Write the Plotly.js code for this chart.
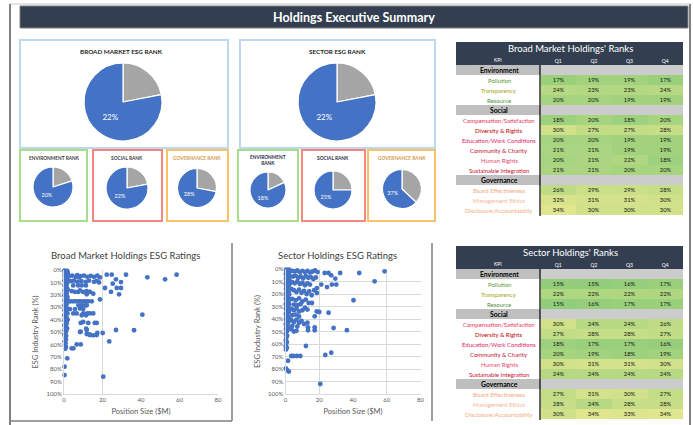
<!DOCTYPE html>
<html><head><meta charset="utf-8">
<script src="https://cdn.plot.ly/plotly-3.0.1.min.js"></script>
<style>html,body{margin:0;padding:0;background:#fff}#chart{width:693px;height:425px}</style>
</head><body><div id="chart"></div>
<script>
// ---------------- DATA ----------------
const pieNames = ['ESG', 'Environment', 'Social', 'Governance'];
const broadRank = [22, 20, 22, 28];
const sectorRank = [22, 18, 25, 37];

const kpiLabels = ['Environment','Pollution','Transparency','Resource','Social','Compensation/Satisfaction','Diversity & Rights','Education/Work Conditions','Community & Charity','Human Rights','Sustainable Integration','Governance','Board Effectiveness','Management Ethics','Disclosure/Accountability'];
const quarterLabels = ['Q1','Q2','Q3','Q4'];
const broadQ1 = [null,17,24,20,null,18,30,20,21,20,21,null,26,32,34];
const broadQ2 = [null,19,23,20,null,20,27,20,21,21,21,null,29,31,30];
const broadQ3 = [null,19,23,19,null,18,27,19,19,22,20,null,29,31,30];
const broadQ4 = [null,17,24,19,null,20,28,19,19,18,20,null,28,30,30];
const sectorQ1 = [null,15,22,15,null,30,27,18,20,30,24,null,27,28,30];
const sectorQ2 = [null,15,22,16,null,24,28,17,19,31,24,null,31,24,34];
const sectorQ3 = [null,16,22,17,null,24,28,17,18,31,24,null,30,28,33];
const sectorQ4 = [null,17,22,17,null,26,27,16,19,30,24,null,27,28,34];

// [position size $M, ESG industry rank %]
const broadPoints = [
[0.2,0.5],[0.9,1.0],[1.6,0.8],[0.4,2.5],[1.2,3.0],[2.0,2.2],[0.3,4.5],[1.0,5.0],[1.8,4.2],[0.5,6.5],[1.4,7.0],[0.2,8.5],[1.1,9.0],[1.9,8.2],[0.6,10.5],[1.5,11.0],[0.3,12.5],[1.2,13.0],[0.8,14.5],[1.7,15.0],[0.3,16.5],[1.1,17.0],[1.9,16.2],[0.5,18.5],[1.4,19.0],[0.2,20.5],[1.0,21.0],[1.8,21.8],[0.6,22.5],[1.3,23.5],[0.3,24.5],[1.1,25.0],[1.9,24.6],[0.7,26.5],[1.5,27.0],[0.2,28.5],[1.0,29.0],[0.5,30.5],[1.6,31.0],[0.3,32.5],[1.2,33.0],[0.8,34.5],[1.8,35.0],[0.2,36.5],[1.0,37.0],[0.6,38.5],[1.5,39.0],[0.3,40.5],[1.1,41.0],[1.9,40.2],[0.7,42.5],[1.4,43.0],[0.2,44.5],[1.0,45.0],[0.6,46.5],[1.6,47.0],[0.3,48.5],[1.2,49.0],[0.8,50.5],[0.2,52.0],[1.1,53.0],[0.5,54.5],[1.0,56.0],[0.3,57.5],[0.8,59.0],[0.4,60.5],[1.0,62.0],[0.6,63.5],
[1.7,71.2],[0.3,78],[0.3,84.7],[20.4,86],
[4,63.2],[4.9,63.2],[6.6,60],[8.7,60],[8.7,49.7],[11.8,51.6],[13.5,52.4],[17,52.4],[11.8,48.4],[27,48.4],[36.4,48.6],[20.1,50.8],[23.5,57.6],[15.2,52.7],[13.2,52],[8.3,50],[11.5,47.3],[17.3,50.8],
[8.7,42.7],[10,41.9],[12.6,42.7],[16,42.7],[17,42.7],
[4.8,35],[6.6,35],[10,35],[12.1,35],[13.5,35],[15.2,35],[9.2,36.5],[11.4,36.5],[40.7,36],
[3.1,31.5],[5.7,31.5],[8.3,31],[10,31.5],[7.5,28.5],[9.2,28.5],[11,28.5],[11.8,28.5],
[2.2,25.3],[3.5,25.3],[4.8,25.3],[6.1,25.3],[7.4,25.3],[8.7,25.3],[10,25.3],[11.3,25.3],[12.6,25.3],[14.4,25.3],[18.7,23.7],
[4,17],[5.7,17.7],[7.4,17.7],[8.3,16.5],[10,17.7],[11.8,17],[13.5,17.7],[15.2,19.1],[11.8,19.6],[24.4,17.7],[28.6,19.6],[21.3,14.5],[27.4,14.5],[29.6,14.5],
[4.8,12.4],[7.4,12.4],[9.2,12.4],[11.4,12.4],[25.3,11],
[3.5,9],[5.2,8.5],[6.9,9.5],[9,9],[11.3,9.5],[13,8.5],[15.6,9.5],[17,8.8],[18.2,10],[27,7.5],[29.6,9.7],
[2.7,5],[4.3,4.5],[6.1,5.5],[6.9,4.2],[7.8,6],[8.7,5],[10.4,4.5],[12.1,5.5],[13.9,4.8],[15.6,5.5],[17.3,4.5],[18.7,6],[22.2,3.8],[24.8,3.8],[32.2,3.8],[43.3,5.9],[52.5,7.5],[58.5,3.8]
];
const sectorPoints = [
[0.3,0.5],[1.2,1.0],[2.2,0.6],[0.5,2.2],[1.6,2.8],[2.6,2.0],[0.2,4.0],[1.0,4.6],[2.0,4.2],[0.6,6.0],[1.5,6.6],[2.5,6.2],[0.3,8.0],[1.2,8.5],[2.2,8.2],[0.7,10.0],[1.7,10.6],[0.2,12.0],[1.1,12.5],[2.3,12.2],[0.6,14.0],[1.6,14.5],[0.3,16.0],[1.2,16.6],[2.4,16.2],[0.7,18.0],[1.8,18.5],[0.2,20.0],[1.1,20.6],[2.2,20.2],[0.6,22.0],[1.5,22.6],[0.3,24.0],[1.2,24.6],[2.5,24.2],[0.8,26.0],[1.8,26.6],[0.2,28.0],[1.0,28.6],[2.2,28.2],[0.6,30.0],[1.6,30.6],[0.3,32.0],[1.3,32.6],[0.8,34.0],[2.0,34.5],[0.2,36.0],[1.1,36.6],[0.6,38.0],[1.7,38.5],[0.3,40.0],[1.2,40.6],[2.3,40.2],[0.7,42.0],[1.6,42.6],[0.2,44.0],[1.0,44.6],[0.6,46.0],[1.5,46.6],[0.3,48.0],[1.1,49.0],[0.6,50.5],[0.2,52.0],[1.0,53.5],[0.5,55.0],[0.2,57.0],[0.8,58.5],[0.4,60.0],[0.2,62.0],[0.8,63.0],[0.3,64.5],
[1.5,73.4],[0.2,79.5],[1,81],[2,82.1],[20.6,92],
[4,1.5],[5.5,2],[7,1.2],[8.5,2.5],[10,1.5],[11.5,2.5],[13,1.5],[14.5,2.8],[16,2],[17.5,1.2],[19,2.5],[23.2,3.2],[25.5,3.2],[27.1,5.1],[29.5,7.7],[32.4,3.2],[43.7,3.2],[58.7,1.9],
[4.5,6],[6,5.5],[7.5,7],[9,6],[10.5,7.5],[12,5.5],[13.5,7],[15,6.5],[16.5,8],[18,6.8],
[4,10.5],[5.5,11.5],[7,10],[8.5,12],[10,11],[11.5,13],[13,11.5],[14.5,12.5],[21.2,12.5],[27.5,12.5],[30.1,12.5],[24.6,14.5],[52.8,9.9],
[3.5,16],[5,17],[6.5,18.5],[8,16.5],[9.5,19],[11,17.5],[12.5,20],[14,18],[15.5,21],[18.6,15.3],[18.6,19.2],[17,17],
[4,24],[6,25],[8,23.5],[10,26],[12,24.5],[40.3,25],[13.7,27.2],[15.7,27.2],[5,28.5],[7,29],[9,28],
[3.5,32],[5,33],[6.5,31.5],[8,34],[10,33],[11.5,31],[13,32.5],[20,34.4],[25.5,35],[17.3,37.9],[18.5,34],[4,37],[6,36.5],[8,38],
[3.5,41],[5,42.5],[6.5,40.5],[8,43],[9.5,41.5],[11,44],[4,45.5],[7,46],[13,43],
[13.3,46.7],[17.3,46.7],[13.3,49],[17.3,49],[28.5,47.2],[36.4,49],[3.5,48],[5,50],[6.5,49.5],
[12.1,61.6],[3.4,69.6],[4.8,69.6],[6.8,69.6],[8.8,69.6],[23.6,68.8],[27.1,67]
];
const xTicks = [0,20,40,60,80];
const yTicks = [0,10,20,30,40,50,60,70,80,90,100];

// ---------------- HELPERS ----------------
const W = 693, H = 425;
const FONT = 'Lato, "Open Sans", sans-serif';
const px = x => x / W;
const py = y => 1 - y / H;
const BLUE = '#4472c4', GRAY = '#a5a5a5', NAVY = '#333f50';

const shapes = [];
const annotations = [];
function rect(x0, y0, x1, y1, color, width, fill) {
  shapes.push({type:'rect', xref:'paper', yref:'paper', x0:px(x0), x1:px(x1), y0:py(y1), y1:py(y0),
    line:{color:color || 'rgba(0,0,0,0)', width:width || 0}, fillcolor: fill || 'rgba(0,0,0,0)', layer:'below'});
}
function line(x0, y0, x1, y1, color, width) {
  shapes.push({type:'line', xref:'paper', yref:'paper', x0:px(x0), x1:px(x1), y0:py(y0), y1:py(y1),
    line:{color:color, width:width}, layer:'above'});
}
function label(text, x, y, size, color, bold) {
  annotations.push({xref:'paper', yref:'paper', x:px(x), y:py(y), text: bold ? '<b>' + text + '</b>' : text,
    showarrow:false, xanchor:'center', yanchor:'middle', font:{family:FONT, size:size, color:color}});
}

const traces = [];
function pie(rank, cx, cy, r, fs) {
  traces.push({type:'pie', values:[rank, 100 - rank], labels:['rest','rank'], sort:false, direction:'clockwise', rotation:0,
    marker:{colors:[GRAY, BLUE], line:{color:'#ffffff', width:1.2}},
    text:['', rank + '%'], textinfo:'text', textposition:'inside', insidetextorientation:'horizontal',
    insidetextfont:{family:FONT, size:fs, color:'#ffffff'}, hoverinfo:'none', showlegend:false,
    domain:{x:[px(cx - r), px(cx + r)], y:[py(cy + r), py(cy - r)]}});
}

// ---------------- FRAME & TITLE ----------------
line(10, 4, 690, 4, '#c8c8c8', 1);
line(10, 4, 10, 425, '#7f7f7f', 2);
line(690, 4, 690, 425, '#7f7f7f', 2);
rect(20, 6, 688, 28, '#7f7f7f', 1, NAVY);
label('Holdings Executive Summary', 354, 17, 12.5, '#ffffff', true);

// ---------------- PIES ----------------
rect(20, 40, 228, 148, '#bdd7ee', 2);
rect(20, 150, 87, 221, '#a9dc8c', 2);
rect(93, 150, 162, 221, '#f4877f', 2);
rect(167, 150, 228, 221, '#f6c36b', 2);
rect(240, 40, 435, 148, '#bdd7ee', 2);
rect(238, 150, 298, 221, '#a9dc8c', 2);
rect(302, 150, 365, 221, '#f4877f', 2);
rect(368, 150, 435, 221, '#f6c36b', 2);

label('BROAD MARKET ESG RANK', 121, 51, 6.3, '#262626', true);
label('ENVIRONMENT RANK', 54, 158, 4.8, '#404040', true);
label('SOCIAL RANK', 127, 158, 4.8, '#404040', true);
label('GOVERNANCE RANK', 197, 158, 4.8, '#d39a4e', true);
label('SECTOR ESG RANK', 337, 51, 6.3, '#262626', true);
label('ENVIRONMENT<br>RANK', 268, 160, 4.8, '#262d4a', true);
label('SOCIAL RANK', 333, 158, 4.8, '#262d4a', true);
label('GOVERNANCE RANK', 402, 158, 4.8, '#d39a4e', true);

const broadGeo = [[123,102,39,8],[53,187,20,5.5],[127,188,21,5.5],[197,188,19.5,5.5]];
const sectorGeo = [[337,102,39,8],[268,190,18,5.5],[333,190,19,5.5],[402,189,19.5,5.5]];
broadRank.forEach((v, i) => pie(v, ...broadGeo[i]));
sectorRank.forEach((v, i) => pie(v, ...sectorGeo[i]));

// ---------------- TABLES (heatmap + axis-anchored labels) ----------------
const groupIdx = [0, 4, 11];
const labelColors = ['#000000','#55a036','#a3a021','#4f8f35','#000000','#e8335c','#c00000','#e0245e','#c0102e','#e8476e','#c8102e','#000000','#f4a77c','#f6b595','#f2ac7e'];
const rowIdx = kpiLabels.map((k, i) => i);
const layoutAxes = {};
function table(qs, title, top, n) {
  const xa = 'x' + n, ya = 'y' + n;
  const hdrTop = top + 13, bodyTop = hdrTop + 10, bodyBot = bodyTop + 150;
  rect(456, top, 683, hdrTop, null, 0, NAVY);
  label(title, 570, top + 6.7, 9.5, '#ffffff', false);
  rect(456, hdrTop, 683, bodyTop, null, 0, NAVY);
  label('KPI', 498, hdrTop + 5, 5, '#ffffff', false);
  const z = rowIdx.map(i => qs.map(q => q[i]));
  const txt = rowIdx.map(i => qs.map(q => q[i] === null ? '' : q[i] + '%'));
  traces.push({type:'heatmap', x:[0,1,2,3], y:rowIdx, z:z, text:txt, texttemplate:'%{text}',
    textfont:{family:FONT, size:5.8, color:'#141414'},
    colorscale:[[0,'rgb(146,205,122)'],[1,'rgb(224,230,142)']], zmin:15, zmax:34, showscale:false,
    xgap:0, ygap:0, hoverinfo:'skip', xaxis:xa, yaxis:ya});
  layoutAxes['xaxis' + n] = {domain:[px(540.5), px(683)], anchor:ya, range:[-0.5, 3.5], side:'top',
    tickvals:[0,1,2,3], ticktext:quarterLabels, tickfont:{family:FONT, size:5, color:'#ffffff'}, ticks:'',
    showgrid:false, zeroline:false, showline:false, fixedrange:true};
  layoutAxes['yaxis' + n] = {domain:[py(bodyBot), py(bodyTop)], anchor:xa, range:[14.5, -0.5],
    showticklabels:false, ticks:'', showgrid:false, zeroline:false, showline:false, fixedrange:true};
  groupIdx.forEach(i => {
    shapes.push({type:'rect', xref:'paper', yref:ya, x0:px(456), x1:px(540), y0:i - 0.5, y1:i + 0.5,
      fillcolor:'#bfbfbf', line:{width:0}, layer:'below'});
    shapes.push({type:'rect', xref:'paper', yref:ya, x0:px(540), x1:px(683), y0:i - 0.5, y1:i + 0.5,
      fillcolor:'#cccccc', line:{width:0}, layer:'below'});
  });
  kpiLabels.forEach((k, i) => {
    const g = groupIdx.includes(i);
    annotations.push({xref:'paper', yref:ya, x:px(499), y:i, text: g ? '<b>' + k + '</b>' : k, showarrow:false,
      xanchor:'center', yanchor:'middle', font:{family:FONT, size: g ? 6.8 : 6, color:labelColors[i]}});
  });
  line(540, bodyTop, 540, bodyBot + 1, '#000000', 1.2);
}
table([broadQ1, broadQ2, broadQ3, broadQ4], "Broad Market Holdings' Ranks", 42, 3);
table([sectorQ1, sectorQ2, sectorQ3, sectorQ4], "Sector Holdings' Ranks", 246, 4);

// ---------------- SCATTERS ----------------
const mk = {color:BLUE, size:4.8, symbol:'circle'};
traces.push({type:'scatter', mode:'markers', x:broadPoints.map(p => p[0]), y:broadPoints.map(p => p[1]),
  marker:mk, xaxis:'x', yaxis:'y', hoverinfo:'skip', showlegend:false, cliponaxis:false});
traces.push({type:'scatter', mode:'markers', x:sectorPoints.map(p => p[0]), y:sectorPoints.map(p => p[1]),
  marker:mk, xaxis:'x2', yaxis:'y2', hoverinfo:'skip', showlegend:false, cliponaxis:false});

label('Broad Market Holdings ESG Ratings', 125, 255, 9.5, '#404040', false);
label('Sector Holdings ESG Ratings', 337, 255, 9.5, '#404040', false);
line(232, 243, 232, 421, '#7f7f7f', 1.5);
line(10, 421, 232, 421, '#7f7f7f', 1.5);
line(432, 243, 432, 421, '#7f7f7f', 1.5);

const tickFont = {family:FONT, size:6, color:'#595959'};
const titleFont = {family:FONT, size:7.5, color:'#595959'};
const yText = yTicks.map(v => v + '%');
function xAxis(d, anchor, minorVals) {
  return {domain:d, anchor:anchor, range:[0, 80], tickvals:xTicks, ticktext:xTicks.map(String), showgrid:false,
    zeroline:false, showline:true, linecolor:'#d9d9d9', linewidth:1, ticks:'', tickfont:tickFont,
    minor:{tickvals:minorVals, showgrid:true, gridcolor:'#d9d9d9', gridwidth:1, ticks:''},
    title:{text:'Position Size ($M)', font:titleFont, standoff:6}, fixedrange:true};
}
function yAxis(d, anchor, grid) {
  return {domain:d, anchor:anchor, range:[100, 0], tickvals:yTicks, ticktext:yText, showgrid:grid,
    gridcolor:'#d9d9d9', gridwidth:1, zeroline:false, showline:true, linecolor:'#d9d9d9', linewidth:1, ticks:'',
    tickfont:tickFont, title:{text:'ESG Industry Rank (%)', font:titleFont, standoff:6}, fixedrange:true};
}

const layout = Object.assign({
  width:W, height:H, margin:{l:0, r:0, t:0, b:0}, paper_bgcolor:'#ffffff', plot_bgcolor:'rgba(0,0,0,0)',
  font:{family:FONT}, showlegend:false, shapes:shapes, annotations:annotations,
  xaxis:xAxis([px(64), px(218)], 'y', [20]),
  yaxis:yAxis([py(394), py(270)], 'x', false),
  xaxis2:xAxis([px(285.5), px(420.5)], 'y2', [20, 60]),
  yaxis2:yAxis([py(394), py(269)], 'x2', true)
}, layoutAxes);
Plotly.newPlot('chart', traces, layout, {displayModeBar:false, staticPlot:true});
</script></body></html>
